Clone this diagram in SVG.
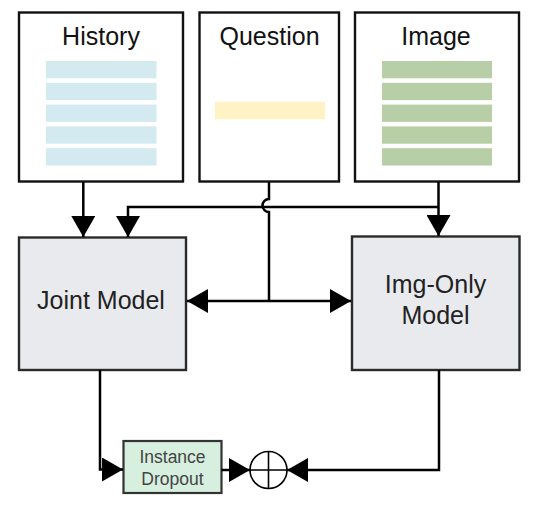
<svg xmlns="http://www.w3.org/2000/svg" width="540" height="505" viewBox="0 0 540 505">
<style>
.in{fill:#ffffff;stroke:#111111;stroke-width:2.4}
.model{fill:#e9eaee;stroke:#2a2a2a;stroke-width:2.4}
.lbl{font-family:"Liberation Sans",Arial,sans-serif;font-size:25px;fill:#111111;text-anchor:middle}
.mlbl{font-family:"Liberation Sans",Arial,sans-serif;font-size:25px;fill:#222222;text-anchor:middle}
.small{font-family:"Liberation Sans",Arial,sans-serif;font-size:17.5px;fill:#444444;text-anchor:middle}
.hb{fill:#d3eaf0}
.ib{fill:#b7cea6}
.qb{fill:#fff2c5}
.ln{fill:none;stroke:#000000;stroke-width:2.5}
</style>
<defs>
<marker id="ah" markerUnits="userSpaceOnUse" markerWidth="21" markerHeight="24" refX="21" refY="12" orient="auto" viewBox="0 0 21 24">
<path d="M0,0 L21,12 L0,24 Z" fill="#000000"/>
</marker>
</defs>
<g id="history">
<rect class="in" x="19" y="12.5" width="164" height="169"/>
<text class="lbl" x="101" y="45">History</text>
<rect class="hb" x="46" y="61" width="110.5" height="17.3"/>
<rect class="hb" x="46" y="82.8" width="110.5" height="17.3"/>
<rect class="hb" x="46" y="104.6" width="110.5" height="17.3"/>
<rect class="hb" x="46" y="126.4" width="110.5" height="17.3"/>
<rect class="hb" x="46" y="148.2" width="110.5" height="17.3"/>
</g>
<g id="question">
<rect class="in" x="199.5" y="12.5" width="139.5" height="169"/>
<text class="lbl" x="269.5" y="45">Question</text>
<rect class="qb" x="215" y="101.7" width="110" height="17.6"/>
</g>
<g id="image">
<rect class="in" x="355" y="12.5" width="164" height="169"/>
<text class="lbl" x="436" y="45">Image</text>
<rect class="ib" x="382" y="61" width="110" height="17.3"/>
<rect class="ib" x="382" y="82.8" width="110" height="17.3"/>
<rect class="ib" x="382" y="104.6" width="110" height="17.3"/>
<rect class="ib" x="382" y="126.4" width="110" height="17.3"/>
<rect class="ib" x="382" y="148.2" width="110" height="17.3"/>
</g>
<g id="joint-model">
<rect class="model" x="19" y="237.5" width="167" height="132.5"/>
<text class="mlbl" x="101" y="309">Joint Model</text>
</g>
<g id="img-only-model">
<rect class="model" x="352" y="236.5" width="167.5" height="133.5"/>
<text class="mlbl" x="435.5" y="293">Img-Only</text>
<text class="mlbl" x="435.5" y="324">Model</text>
</g>
<g id="instance-dropout">
<rect x="123.5" y="441" width="98" height="52" fill="#d6efdf" stroke="#333333" stroke-width="2.2"/>
<text class="small" x="172.5" y="463">Instance</text>
<text class="small" x="172.5" y="485">Dropout</text>
</g>
<g id="sum">
<circle cx="268.5" cy="470" r="18.5" fill="#ffffff" stroke="#000000" stroke-width="1.6"/>
<path d="M250,470 H287 M268.5,451.5 V488.5" stroke="#000000" stroke-width="1.6" fill="none"/>
</g>
<g id="connectors">
<path class="ln" d="M83.3,182 V237" marker-end="url(#ah)"/>
<path class="ln" d="M438.5,182 V236" marker-end="url(#ah)"/>
<path class="ln" d="M438.5,207 H128 V237" marker-end="url(#ah)"/>
<path class="ln" d="M269,182 V199 A6.5,6.5 0 0 0 269,212 V301"/>
<path class="ln" d="M269,301 H187" marker-end="url(#ah)"/>
<path class="ln" d="M269,301 H351" marker-end="url(#ah)"/>
<path class="ln" d="M100,370 V469.5 H123" marker-end="url(#ah)"/>
<path class="ln" d="M221.5,470 H250" marker-end="url(#ah)"/>
<path class="ln" d="M439,370 V470 H287" marker-end="url(#ah)"/>
</g>
</svg>
